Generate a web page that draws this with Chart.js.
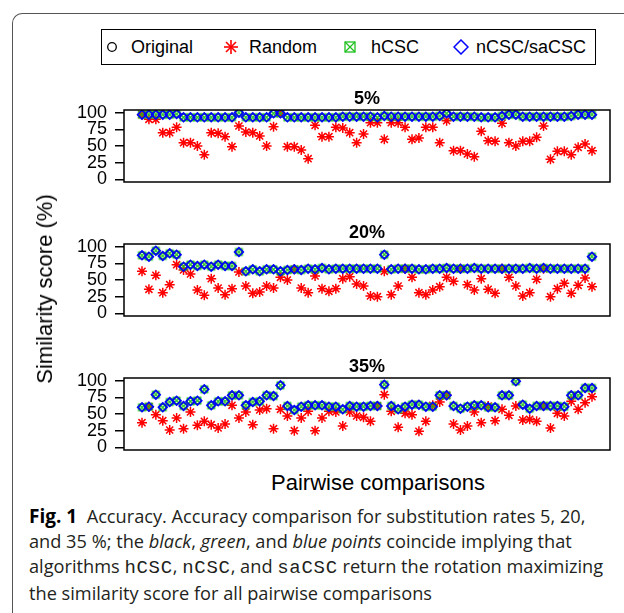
<!DOCTYPE html>
<html lang="en">
<head>
<meta charset="UTF-8">
<title>Fig. 1 Accuracy</title>
<script src="https://cdn.jsdelivr.net/npm/chart.js"></script>
<style>
    body { margin: 0; background: #fff; }
    #page { position: relative; width: 624px; height: 613px; overflow: hidden; font-family: "Liberation Sans", Arial, sans-serif; color: #000; }
    .frame { position: absolute; left: 12px; top: 13px; width: 700px; height: 700px; border-top: 1px solid #555; border-left: 1px solid #555; border-top-left-radius: 10px; }
    .legend { position: absolute; left: 101px; top: 29px; width: 493px; height: 34px; border: 1.5px solid #000; }
    .legend span { position: absolute; top: 6px; font-size: 18px; line-height: 22px; }
    .legend svg { position: absolute; top: 10px; }
    .panel { position: absolute; left: 0; }
    .ylab { position: absolute; left: 45px; top: 289px; font-size: 22px; white-space: nowrap; transform: translate(-50%, -50%) rotate(-90deg); }
    .xlab { position: absolute; left: 378px; top: 483px; font-size: 22px; white-space: nowrap; transform: translate(-50%, -50%); }
    .caption { position: absolute; left: 29px; top: 504px; font-family: "Open Sans", sans-serif; font-size: 18.2px; line-height: 25px; color: #231f20; white-space: nowrap; }
    .caption b { color: #000; font-size: 19px; }
    .caption code { font-family: "Liberation Mono", monospace; font-size: 19px; letter-spacing: 0.7px; }
</style>
</head>
<body>
<div id="page">
    <div class="frame"></div>

    <!-- legend -->
    <div class="legend">
        <svg width="14" height="14" style="left:3px"><circle cx="7" cy="7" r="4.3" fill="none" stroke="#000" stroke-width="1.3"/></svg>
        <span style="left:29px">Original</span>
        <svg width="16" height="16" style="left:121px;top:9px"><g stroke="#f00" stroke-width="1.6"><line x1="8" y1="1" x2="8" y2="15"/><line x1="1" y1="8" x2="15" y2="8"/><line x1="3" y1="3" x2="13" y2="13"/><line x1="13" y1="3" x2="3" y2="13"/></g></svg>
        <span style="left:147px">Random</span>
        <svg width="14" height="14" style="left:241px"><g fill="none" stroke="#1ec01e" stroke-width="1.3"><rect x="2" y="2" width="10" height="10"/><line x1="2" y1="2" x2="12" y2="12"/><line x1="12" y1="2" x2="2" y2="12"/></g></svg>
        <span style="left:269px">hCSC</span>
        <svg width="16" height="16" style="left:351px;top:9px"><polygon points="8,1 15,8 8,15 1,8" fill="none" stroke="#0000ff" stroke-width="1.5"/></svg>
        <span style="left:374px">nCSC/saCSC</span>
    </div>

    <div class="panel" style="top:90px"><canvas id="c5" width="624" height="109"></canvas></div>
    <div class="panel" style="top:224px"><canvas id="c20" width="624" height="109"></canvas></div>
    <div class="panel" style="top:358px"><canvas id="c35" width="624" height="109"></canvas></div>

    <div class="ylab">Similarity score (%)</div>
    <div class="xlab">Pairwise comparisons</div>

    <div class="caption">
        <b>Fig. 1</b>&nbsp; Accuracy. Accuracy comparison for substitution rates 5, 20,<br>
        and 35 %; the <i>black</i>, <i>green</i>, and <i>blue points</i> coincide implying that<br>
        algorithms <code>hCSC</code>, <code>nCSC</code>, and <code>saCSC</code> return the rotation maximizing<br>
        the similarity score for all pairwise comparisons
    </div>
</div>

<script>
    // similarity scores per pairwise comparison (66 comparisons)
    // "best" = Original, hCSC and nCSC/saCSC (they coincide)
    const best5 = [97, 97, 97, 97, 97, 98, 93, 93, 93, 93, 93, 93, 93, 93, 100, 93, 93, 93, 93, 99, 99, 93, 93, 93, 93, 93, 93, 93, 93, 94,
        94, 94, 94, 94, 93, 95, 94, 94, 94, 94, 94, 94, 94, 95, 99, 94, 94, 94, 94, 93, 93, 93, 95, 97, 97, 94, 94, 94, 94, 94, 94, 94, 95, 97, 97, 97];
    const random5 = [97, 90, 90, 70, 70, 78, 55, 55, 50, 37, 70, 69, 64, 49, 80, 71, 70, 65, 50, 79, 99, 49, 49, 44, 31, 81, 64, 64, 78, 77,
        70, 55, 68, 85, 85, 60, 85, 85, 78, 60, 62, 78, 78, 55, 88, 43, 43, 38, 34, 72, 58, 57, 84, 55, 50, 57, 57, 63, 80, 30, 42, 42, 37, 48, 53, 43];

    const best20 = [87, 85, 94, 86, 90, 88, 70, 73, 71, 73, 70, 73, 71, 71, 92, 63, 66, 63, 66, 66, 63, 65, 66, 65, 67, 66, 68, 66, 67, 67,
        67, 67, 67, 67, 67, 88, 66, 67, 67, 67, 66, 66, 67, 67, 68, 67, 67, 67, 68, 67, 67, 67, 67, 67, 67, 67, 68, 67, 68, 67, 67, 67, 67, 67, 67, 85];
    const random20 = [63, 36, 57, 31, 43, 73, 65, 59, 35, 27, 52, 38, 28, 37, 62, 41, 30, 32, 41, 38, 54, 50, 66, 38, 31, 56, 37, 33, 37, 52,
        55, 44, 41, 26, 25, 63, 28, 41, 67, 54, 31, 28, 35, 40, 54, 48, 67, 43, 35, 52, 36, 30, 67, 54, 41, 26, 31, 51, 67, 25, 37, 45, 30, 42, 53, 40];

    const best35 = [60, 61, 79, 60, 68, 70, 62, 69, 70, 87, 63, 69, 69, 78, 78, 63, 68, 69, 78, 77, 93, 62, 56, 61, 63, 63, 63, 61, 61, 57,
        62, 61, 61, 62, 62, 94, 62, 57, 61, 64, 64, 61, 61, 78, 78, 62, 58, 61, 63, 63, 60, 60, 78, 78, 99, 64, 58, 62, 62, 62, 62, 61, 78, 78, 89, 89];
    const random35 = [37, 61, 49, 40, 26, 44, 28, 53, 33, 39, 34, 29, 35, 63, 44, 53, 34, 56, 58, 28, 57, 47, 25, 44, 54, 25, 44, 54, 53, 32,
        53, 47, 45, 39, 62, 79, 54, 30, 51, 49, 24, 39, 63, 68, 78, 35, 26, 32, 53, 37, 62, 40, 57, 48, 62, 41, 42, 39, 62, 29, 51, 47, 69, 57, 67, 76];

    const yTicks = [0, 25, 50, 75, 100];

    Chart.defaults.font.family = '"Liberation Sans", Arial, sans-serif';
    Chart.defaults.color = '#000';

    // hCSC marker: square with a cross
    function boxCross(half, color) {
        const c = document.createElement('canvas');
        const s = Math.ceil(half * 2 + 4);
        c.width = s; c.height = s;
        const g = c.getContext('2d');
        const m = s / 2;
        g.strokeStyle = color;
        g.lineWidth = 1.3;
        g.strokeRect(m - half, m - half, half * 2, half * 2);
        g.beginPath();
        g.moveTo(m - half, m - half); g.lineTo(m + half, m + half);
        g.moveTo(m + half, m - half); g.lineTo(m - half, m + half);
        g.stroke();
        return c;
    }
    const hcscMarker = boxCross(3.3, '#1ec01e');

    // box around the plotting region, like R's box()
    const boxPlugin = {
        id: 'box',
        afterDatasetsDraw(chart) {
            const a = chart.chartArea, g = chart.ctx;
            g.save();
            g.strokeStyle = '#000';
            g.lineWidth = 1.5;
            g.strokeRect(a.left, a.top, a.right - a.left, a.bottom - a.top);
            g.restore();
        }
    };

    function toPoints(arr) {
        return arr.map((v, i) => ({ x: i + 1, y: v }));
    }

    function makePanel(id, title, best, random) {
        const n = best.length;
        const pad = (n - 1) * 0.04;
        new Chart(document.getElementById(id), {
            type: 'scatter',
            data: {
                datasets: [
                    { label: 'nCSC/saCSC', data: toPoints(best), pointStyle: 'rectRot', radius: 4.4, borderColor: '#0000ff', backgroundColor: 'rgba(0,0,0,0)', borderWidth: 1.6, order: 0 },
                    { label: 'hCSC', data: toPoints(best), pointStyle: hcscMarker, order: 1 },
                    { label: 'Random', data: toPoints(random), pointStyle: 'star', radius: 5, borderColor: '#ff0000', borderWidth: 1.5, order: 2 },
                    { label: 'Original', data: toPoints(best), pointStyle: 'circle', radius: 3, borderColor: '#000', backgroundColor: 'rgba(0,0,0,0)', borderWidth: 1, order: 3 }
                ]
            },
            options: {
                responsive: false,
                animation: false,
                events: [],
                layout: { padding: { left: 0, right: 14, top: 0, bottom: 10 } },
                plugins: {
                    legend: { display: false },
                    tooltip: { enabled: false },
                    title: {
                        display: true, text: title, fullSize: false,
                        font: { size: 18, weight: 'bold', lineHeight: 1 },
                        padding: { top: 0, bottom: 2 }, color: '#000'
                    }
                },
                scales: {
                    x: { type: 'linear', min: 1 - pad, max: n + pad, display: false },
                    y: {
                        min: -4, max: 104,
                        afterBuildTicks(scale) { scale.ticks = yTicks.map(v => ({ value: v })); },
                        afterFit(scale) { scale.width = 124; },
                        ticks: { font: { size: 18, lineHeight: 1 }, padding: 8, color: '#000', autoSkip: false },
                        grid: { drawOnChartArea: false, drawTicks: true, tickLength: 9, color: '#000', lineWidth: 1.5 },
                        border: { display: false }
                    }
                }
            },
            plugins: [boxPlugin]
        });
    }

    makePanel('c5', '5%', best5, random5);
    makePanel('c20', '20%', best20, random20);
    makePanel('c35', '35%', best35, random35);
</script>
</body>
</html>
